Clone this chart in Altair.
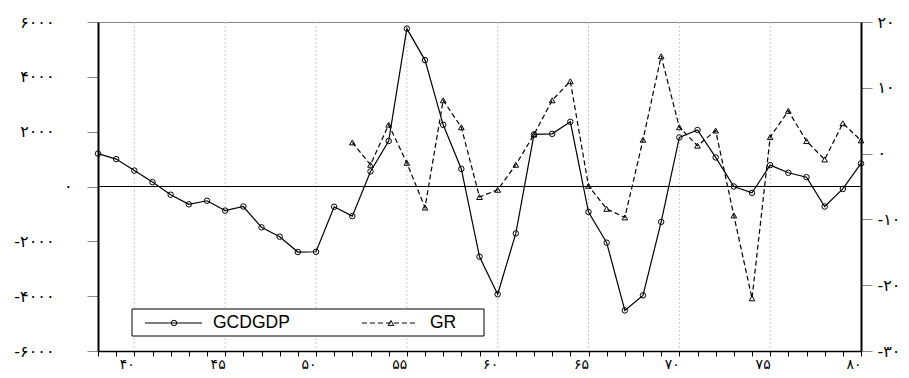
import altair as alt
import pandas as pd

# ---- data ----
years = list(range(38, 81))
gcdgdp = [1200, 1000, 580, 160, -300, -650, -520, -880, -730, -1490,
          -1830, -2390, -2380, -740, -1080, 550, 1660, 5760, 4610, 2250,
          640, -2560, -3930, -1710, 1900, 1920, 2360, -930, -2050, -4520,
          -3970, -1290, 1790, 2060, 1060, 0, -230, 780, 500, 340,
          -730, -90, 840]
gr_years = list(range(52, 81))
gr = [1.7, -1.7, 4.4, -1.4, -8.2, 8.1, 4.0, -6.6, -5.5, -1.7,
      2.9, 8.1, 11.0, -4.9, -8.4, -9.7, 2.1, 14.8, 4.0, 1.2,
      3.5, -9.4, -22.0, 2.5, 6.5, 1.9, -0.9, 4.6, 2.0]
x_label_ticks = [40, 45, 50, 55, 60, 65, 70, 75, 80]
grid_years = [40, 45, 50, 55, 60, 65, 70, 75]
left_ticks = [-6000, -4000, -2000, 0, 2000, 4000, 6000]
right_ticks = [-30, -20, -10, 0, 10, 20]
legend_labels = ["GCDGDP", "GR"]

FA = str.maketrans("0123456789", "۰۱۲۳۴۵۶۷۸۹")


def fa(n):
    s = str(abs(int(n))).translate(FA)
    return "-" + s if n < 0 else s


def label_expr(values):
    parts = [f"datum.value == {v} ? '{fa(v)}'" for v in values]
    return " : ".join(parts) + " : ''"


df = pd.DataFrame({"year": years, "GCDGDP": gcdgdp})
dgr = pd.DataFrame({"year": gr_years, "GR": gr})
dgrid = pd.DataFrame({"year": grid_years})
one = pd.DataFrame({"a": [0]})
dleg = pd.DataFrame({"label": legend_labels})

W, H = 763, 329
FONT = "DejaVu Sans"
LFS = 16
XFS = 14

xscale = alt.Scale(domain=[38, 80], nice=False, zero=False)
xaxis = alt.Axis(values=years, labelExpr=label_expr(x_label_ticks), tickSize=5,
                 tickColor="black", domainColor="black", domainWidth=1.5,
                 grid=False, title=None, labelAlign="right", labelBaseline="top",
                 labelPadding=1, labelFontSize=XFS, labelFont=FONT, labelColor="black")
lscale = alt.Scale(domain=[-6000, 6000], nice=False, zero=False)
laxis = alt.Axis(values=left_ticks, labelExpr=label_expr(left_ticks), tickSize=11,
                 tickColor="#888", domainColor="black", domainWidth=2, grid=False,
                 title=None, labelFontSize=LFS, labelFont=FONT, labelColor="black",
                 labelPadding={"condition": {"test": "datum.value == 0", "value": 15}, "value": 33})
rscale = alt.Scale(domain=[-30, 20], nice=False, zero=False)
raxis = alt.Axis(values=right_ticks, labelExpr=label_expr(right_ticks), tickSize=11,
                 tickColor="#888", domainColor="black", domainWidth=2, grid=False,
                 title=None, labelFontSize=LFS, labelFont=FONT, labelColor="black",
                 orient="right", labelPadding=5, labelAlign="left")

grid = alt.Chart(dgrid).mark_rule(color="#c8c8c8", strokeDash=[2, 2], strokeWidth=1).encode(
    x=alt.X("year:Q", scale=xscale, axis=xaxis))
zero = alt.Chart(one).mark_rule(color="black", strokeWidth=1).encode(
    y=alt.datum(0, scale=lscale, axis=laxis))
gline = alt.Chart(df).mark_line(color="black", strokeWidth=1.2).encode(
    x=alt.X("year:Q", scale=xscale, axis=xaxis),
    y=alt.Y("GCDGDP:Q", scale=lscale, axis=laxis))
gpts = alt.Chart(df).mark_point(shape="circle", filled=False, color="black", size=30,
                                strokeWidth=1, opacity=1).encode(
    x=alt.X("year:Q", scale=xscale, axis=xaxis),
    y=alt.Y("GCDGDP:Q", scale=lscale, axis=laxis))

# legend (drawn inside the plot area)
lbox = alt.Chart(one).mark_rect(fill="white", stroke="black", strokeWidth=1).encode(
    x=alt.value(34), x2=alt.value(386), y=alt.value(287), y2=alt.value(314))
l1 = alt.Chart(one).mark_rule(color="black", strokeWidth=1.2).encode(
    x=alt.value(47), x2=alt.value(104), y=alt.value(301))
l1p = alt.Chart(one).mark_point(shape="circle", filled=False, color="black", size=30,
                                 strokeWidth=1, opacity=1).encode(x=alt.value(76), y=alt.value(301))
l2 = alt.Chart(one).mark_rule(color="black", strokeWidth=1.2, strokeDash=[5, 3]).encode(
    x=alt.value(264), x2=alt.value(317), y=alt.value(301))
l2p = alt.Chart(one).mark_point(shape="triangle-up", filled=False, color="black", size=32,
                                 strokeWidth=1, opacity=1).encode(x=alt.value(293), y=alt.value(301))
t1 = alt.Chart(dleg).transform_filter(alt.datum.label == legend_labels[0]).mark_text(
    align="left", baseline="middle", font="Liberation Sans", fontSize=17.5, color="black").encode(
    x=alt.value(115), y=alt.value(301), text="label:N")
t2 = alt.Chart(dleg).transform_filter(alt.datum.label == legend_labels[1]).mark_text(
    align="left", baseline="middle", font="Liberation Sans", fontSize=17.5, color="black").encode(
    x=alt.value(332), y=alt.value(301), text="label:N")

left = alt.layer(grid, zero, gline, gpts)

rline = alt.Chart(dgr).mark_line(color="black", strokeWidth=1.2, strokeDash=[5, 3]).encode(
    x=alt.X("year:Q", scale=xscale, axis=xaxis),
    y=alt.Y("GR:Q", scale=rscale, axis=raxis))
rpts = alt.Chart(dgr).mark_point(shape="triangle-up", filled=False, color="black", size=32,
                                 strokeWidth=1, opacity=1).encode(
    x=alt.X("year:Q", scale=xscale, axis=xaxis),
    y=alt.Y("GR:Q", scale=rscale, axis=raxis))
right = alt.layer(rline, rpts)

legend = alt.layer(lbox, l1, l1p, l2, l2p, t1, t2)

chart = alt.layer(left, right, legend).resolve_scale(y="independent").properties(
    width=W, height=H, autosize="none",
    padding={"left": 90, "top": 14, "right": 40, "bottom": 26},
    background="white",
).configure_view(stroke="#888", strokeWidth=1)

chart.save("out.html", embed_options={"renderer": "svg", "actions": False})
